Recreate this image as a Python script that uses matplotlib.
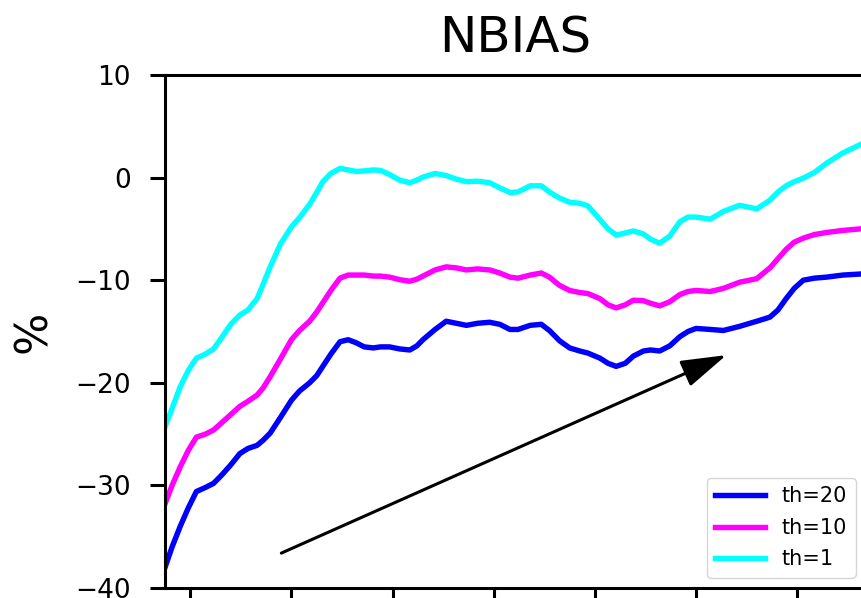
import numpy as np
import matplotlib
matplotlib.use("Agg")
import matplotlib.pyplot as plt

# NBIAS (%) for three thresholds on a shared decimal-year time axis
years = [2014.75, 2014.82, 2014.90, 2014.98, 2015.06, 2015.15, 2015.23, 2015.31,
         2015.40, 2015.49, 2015.57, 2015.66, 2015.72, 2015.79, 2015.89, 2016.00,
         2016.08, 2016.18, 2016.25, 2016.31, 2016.39, 2016.48, 2016.56, 2016.64,
         2016.72, 2016.81, 2016.88, 2016.97, 2017.07, 2017.17, 2017.24, 2017.30,
         2017.42, 2017.53, 2017.63, 2017.73, 2017.84, 2017.96, 2018.06, 2018.16,
         2018.24, 2018.36, 2018.47, 2018.55, 2018.65, 2018.75, 2018.85, 2018.93,
         2019.05, 2019.13, 2019.21, 2019.30, 2019.38, 2019.48, 2019.55, 2019.64,
         2019.74, 2019.84, 2019.92, 2020.00, 2020.14, 2020.27, 2020.43, 2020.60,
         2020.73, 2020.81, 2020.89, 2020.97, 2021.06, 2021.17, 2021.29, 2021.45,
         2021.62]

nbias_th20 = [-38.0, -36.0, -34.0, -32.2, -30.6, -30.2, -29.8, -29.0,
              -28.0, -26.9, -26.4, -26.1, -25.6, -24.9, -23.4, -21.7,
              -20.8, -20.0, -19.3, -18.4, -17.2, -16.0, -15.8, -16.1,
              -16.5, -16.6, -16.5, -16.5, -16.7, -16.8, -16.4, -15.8,
              -14.8, -14.0, -14.2, -14.4, -14.2, -14.1, -14.3, -14.8,
              -14.8, -14.4, -14.3, -14.9, -15.9, -16.6, -16.9, -17.1,
              -17.6, -18.1, -18.4, -18.1, -17.4, -16.9, -16.8, -16.9,
              -16.4, -15.5, -15.0, -14.7, -14.8, -14.9, -14.5, -14.0,
              -13.6, -12.9, -11.8, -10.8, -10.0, -9.8, -9.7, -9.5,
              -9.4]

nbias_th10 = [-31.8, -30.0, -28.2, -26.6, -25.3, -25.0, -24.6, -23.9,
              -23.1, -22.3, -21.8, -21.2, -20.5, -19.4, -17.7, -15.8,
              -14.9, -14.0, -13.1, -12.2, -11.0, -9.8, -9.5, -9.5,
              -9.5, -9.6, -9.6, -9.7, -9.95, -10.1, -9.9, -9.6,
              -9.0, -8.7, -8.8, -9.0, -8.9, -9.0, -9.3, -9.7,
              -9.8, -9.5, -9.3, -9.7, -10.5, -11.0, -11.2, -11.3,
              -11.8, -12.4, -12.7, -12.4, -11.95, -12.0, -12.25, -12.5,
              -12.1, -11.4, -11.1, -11.0, -11.1, -10.8, -10.2, -9.85,
              -8.8, -7.9, -7.0, -6.3, -5.9, -5.55, -5.35, -5.15,
              -5.0]

nbias_th1 = [-24.3, -22.5, -20.4, -18.8, -17.6, -17.2, -16.7, -15.6,
             -14.3, -13.4, -12.9, -11.8, -10.4, -8.7, -6.5, -4.8,
             -3.9, -2.6, -1.45, -0.4, 0.4, 0.9, 0.75, 0.6,
             0.65, 0.75, 0.7, 0.3, -0.25, -0.5, -0.25, 0.05,
             0.4, 0.2, -0.15, -0.4, -0.35, -0.5, -1.0, -1.45,
             -1.4, -0.8, -0.8, -1.4, -2.0, -2.4, -2.5, -2.75,
             -4.1, -5.0, -5.6, -5.4, -5.2, -5.5, -6.0, -6.4,
             -5.7, -4.3, -3.85, -3.85, -4.05, -3.3, -2.7, -3.05,
             -2.2, -1.4, -0.8, -0.4, -0.05, 0.5, 1.4, 2.4,
             3.2]

labels = ["th=20", "th=10", "th=1"]
colors = ["#0000ff", "#ff00ff", "#00ffff"]

# trend arrow (start, end) in data coordinates
arrow_start = (2015.90, -36.6)
arrow_end = (2020.30, -17.3)

fig = plt.figure(figsize=(8.61, 5.98), dpi=100)
ax = fig.add_axes([165 / 861, 10 / 598, 701 / 861, 513 / 598])

for y, lab, c in zip([nbias_th20, nbias_th10, nbias_th1], labels, colors):
    ax.plot(years, y, color=c, lw=3.9, label=lab)

ax.annotate("", xy=arrow_end, xytext=arrow_start,
            arrowprops=dict(arrowstyle="-|>,head_length=2.8,head_width=0.85",
                            color="k", lw=2.2, shrinkA=0, shrinkB=0,
                            mutation_scale=10))

ax.set_xlim(2014.75, 2021.68)
ax.set_ylim(-40, 10)
ax.set_xticks(np.arange(2015, 2022))
ax.set_yticks(np.arange(-40, 11, 10))

for side in ax.spines.values():
    side.set_linewidth(2.2)
ax.tick_params(axis="both", length=10.8, width=2.2, labelsize=19, pad=14)
ax.tick_params(axis="x", labelbottom=False)

ax.set_ylabel("%", fontsize=32, labelpad=14)
ax.set_title("NBIAS", fontsize=36, pad=16)

ax.legend(loc="lower right", fontsize=15, handlelength=2.4, labelspacing=0.55)

fig.savefig("out.png", dpi=100)
